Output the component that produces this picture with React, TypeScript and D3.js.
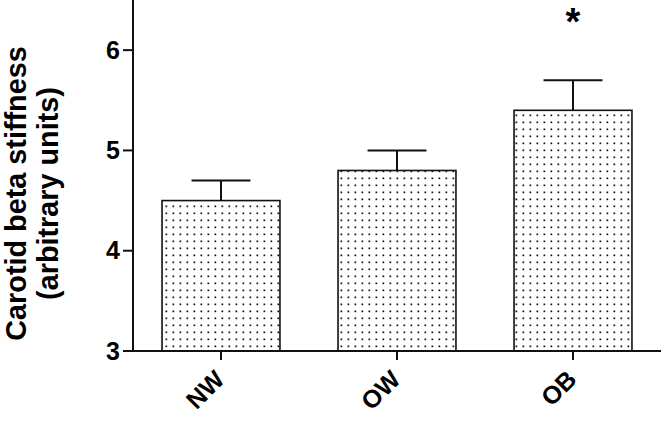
import React from "react";
import * as d3 from "d3";

const categories = ["NW", "OW", "OB"];
const means = [4.5, 4.8, 5.4];
const sems = [0.2, 0.2, 0.3];
const yTicks = [3, 4, 5, 6];
const significance = ["", "", "*"];

const W = 661;
const H = 427;
const FONT = "Liberation Sans, Arial, sans-serif";

export default function App() {
  const x = d3
    .scaleBand<string>()
    .domain(categories)
    .range([133, 661])
    .paddingInner(0.33)
    .paddingOuter(0.165);
  const y = d3.scaleLinear().domain([3, 6.5]).range([351, 0]);
  const bw = x.bandwidth();
  const capW = bw / 2;

  return (
    <div style={{ position: "fixed", left: 0, top: 0 }}>
      <svg width={W} height={H} style={{ display: "block", background: "#fff" }}>
        <defs>
          <pattern id="dots" width={7} height={7} patternUnits="userSpaceOnUse" x={2} y={0}>
            <rect width={7} height={7} fill="#fff" />
            <rect x={2.5} y={2.5} width={1.7} height={1.7} fill="#111" />
          </pattern>
        </defs>
        {categories.map((c, i) => {
          const x0 = x(c)!;
          const cx = x0 + bw / 2;
          return (
            <g key={c}>
              <line x1={cx} x2={cx} y1={y(means[i])} y2={y(means[i] + sems[i])} stroke="#111" strokeWidth={2} />
              <line x1={cx - capW / 2} x2={cx + capW / 2} y1={y(means[i] + sems[i])} y2={y(means[i] + sems[i])} stroke="#111" strokeWidth={2} />
              <rect x={x0} y={y(means[i])} width={bw} height={y(3) - y(means[i])} fill="url(#dots)" stroke="#111" strokeWidth={1.6} />
              {significance[i] && (
                <text x={cx} y={y(means[i] + sems[i]) - 45} textAnchor="middle" fontFamily={FONT} fontWeight="bold" fontSize={38} fill="#000">
                  {significance[i]}
                </text>
              )}
              <line x1={cx} x2={cx} y1={y(3)} y2={y(3) + 9} stroke="#111" strokeWidth={2} />
              <text
                transform={`translate(${cx + 5},${y(3) + 30}) rotate(-45)`}
                textAnchor="end"
                fontFamily={FONT}
                fontWeight="bold"
                fontSize={25}
                fill="#000"
              >
                {c}
              </text>
            </g>
          );
        })}
        <line x1={133} x2={133} y1={0} y2={y(3)} stroke="#111" strokeWidth={2} />
        <line x1={132} x2={661} y1={y(3)} y2={y(3)} stroke="#111" strokeWidth={2} />
        {yTicks.map((t) => (
          <g key={t}>
            <line x1={123} x2={133} y1={y(t)} y2={y(t)} stroke="#111" strokeWidth={2} />
            <text x={120} y={y(t) + 8.5} textAnchor="end" fontFamily={FONT} fontWeight="bold" fontSize={25} fill="#000">
              {t}
            </text>
          </g>
        ))}
        <text
          transform={`translate(26,193.5) rotate(-90)`}
          textAnchor="middle"
          fontFamily={FONT}
          fontWeight="bold"
          fontSize={28.8}
          fill="#000"
        >
          Carotid beta stiffness
        </text>
        <text
          transform={`translate(58,193.5) rotate(-90)`}
          textAnchor="middle"
          fontFamily={FONT}
          fontWeight="bold"
          fontSize={28.8}
          fill="#000"
        >
          (arbitrary units)
        </text>
      </svg>
    </div>
  );
}
